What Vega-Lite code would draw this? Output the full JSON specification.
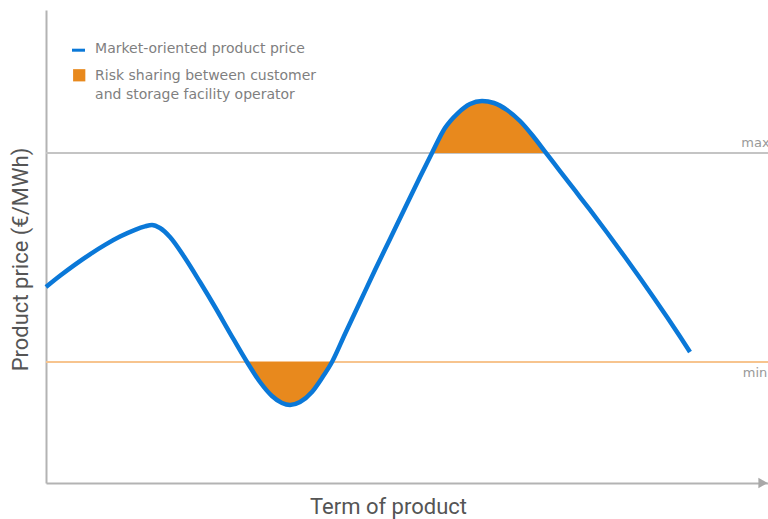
{
  "$schema": "https://vega.github.io/schema/vega-lite/v6.json",
  "width": 722,
  "height": 473,
  "padding": {"left": 46, "top": 10, "right": 0, "bottom": 36},
  "autosize": {"type": "none"},
  "background": "white",
  "config": {"view": {"stroke": null}, "font": "Roboto"},
  "datasets": {
    "curve": [
      {"t": 0, "p": 41.44}, {"t": 1.94, "p": 43.81}, {"t": 4.02, "p": 46.17}, {"t": 6.09, "p": 48.35},
      {"t": 8.17, "p": 50.34}, {"t": 10.25, "p": 52.09}, {"t": 12.33, "p": 53.53}, {"t": 13.71, "p": 54.25},
      {"t": 14.68, "p": 54.55}, {"t": 15.79, "p": 53.91}, {"t": 17.17, "p": 52.01}, {"t": 19.25, "p": 47.57},
      {"t": 21.33, "p": 42.49}, {"t": 23.41, "p": 37.21}, {"t": 25.48, "p": 31.71}, {"t": 27.84, "p": 25.58},
      {"t": 29.64, "p": 21.35}, {"t": 31.3, "p": 18.39}, {"t": 32.69, "p": 16.91}, {"t": 33.8, "p": 16.49},
      {"t": 35.18, "p": 17.12}, {"t": 36.84, "p": 19.24}, {"t": 38.23, "p": 22.2}, {"t": 39.61, "p": 25.58},
      {"t": 41.41, "p": 31.5}, {"t": 43.49, "p": 38.27}, {"t": 45.57, "p": 45.03}, {"t": 47.65, "p": 51.59},
      {"t": 49.72, "p": 58.14}, {"t": 51.8, "p": 64.69}, {"t": 53.46, "p": 69.77}, {"t": 55.26, "p": 75.05},
      {"t": 57.06, "p": 78.22}, {"t": 58.73, "p": 80.13}, {"t": 60.39, "p": 80.76}, {"t": 62.05, "p": 80.34},
      {"t": 63.85, "p": 78.86}, {"t": 65.65, "p": 76.53}, {"t": 67.45, "p": 73.36}, {"t": 69.25, "p": 69.77},
      {"t": 71.19, "p": 65.96}, {"t": 73.27, "p": 61.84}, {"t": 75.35, "p": 57.72}, {"t": 77.7, "p": 52.96},
      {"t": 80.19, "p": 47.78}, {"t": 82.27, "p": 43.34}, {"t": 84.35, "p": 38.79}, {"t": 86.01, "p": 35.1},
      {"t": 87.81, "p": 30.97}, {"t": 89.2, "p": 27.7}
    ],
    "levels": [
      {"level": "max", "t": 0, "t2": 100, "p": 69.77},
      {"level": "min", "t": 0, "t2": 100, "p": 25.58}
    ],
    "levelLabels": [
      {"label": "max", "t": 96.3, "p": 69.77},
      {"label": "min", "t": 96.5, "p": 25.58}
    ],
    "arrow": [{"t": 99.3, "p": 0}],
    "legendLine": [{"t": 3.6, "t2": 5.4, "p": 91.5}],
    "legendSquare": [{"t": 4.6, "p": 86.2}],
    "legendText": [
      {"t": 6.8, "p": 91.75, "text": "Market-oriented product price"},
      {"t": 6.8, "p": 86.0, "text": "Risk sharing between customer"},
      {"t": 6.8, "p": 82.0, "text": "and storage facility operator"}
    ]
  },
  "encoding": {
    "x": {
      "field": "t", "type": "quantitative",
      "scale": {"domain": [0, 100], "nice": false, "zero": false},
      "axis": {
        "title": "Term of product", "ticks": false, "labels": false, "grid": false,
        "domainColor": "#b3b3b3", "domainWidth": 2,
        "titleX": 342, "titleY": 23, "titleAlign": "center", "titleBaseline": "middle",
        "titleFontSize": 22, "titleColor": "#555555", "titleFontWeight": "normal", "titleFont": "Roboto"
      }
    },
    "y": {
      "field": "p", "type": "quantitative",
      "scale": {"domain": [0, 100], "nice": false, "zero": false},
      "axis": {
        "title": "Product price (€/MWh)", "ticks": false, "labels": false, "grid": false,
        "domainColor": "#b3b3b3", "domainWidth": 2,
        "titleX": -26, "titleY": 249, "titleAngle": -90, "titleAlign": "center", "titleBaseline": "middle",
        "titleFontSize": 22, "titleColor": "#555555", "titleFontWeight": "normal", "titleFont": "Roboto"
      }
    }
  },
  "layer": [
    {
      "data": {"name": "levels"},
      "mark": {"type": "rule", "strokeWidth": 2},
      "encoding": {
        "x2": {"field": "t2"},
        "color": {"field": "level", "type": "nominal", "scale": {"domain": ["max", "min"], "range": ["#c4c4c4", "#f7c48e"]}, "legend": null}
      }
    },
    {
      "data": {"name": "curve"},
      "transform": [{"filter": "datum.t >= 27.8 && datum.t <= 39.7"}],
      "mark": {"type": "area", "interpolate": "monotone", "color": "#e8891d", "opacity": 1},
      "encoding": {"y2": {"datum": 25.58}}
    },
    {
      "data": {"name": "curve"},
      "transform": [{"filter": "datum.t >= 53.4 && datum.t <= 69.3"}],
      "mark": {"type": "area", "interpolate": "monotone", "color": "#e8891d", "opacity": 1},
      "encoding": {"y2": {"datum": 69.77}}
    },
    {
      "data": {"name": "curve"},
      "mark": {"type": "line", "interpolate": "monotone", "color": "#0a78d8", "strokeWidth": 4.5, "strokeCap": "butt"},
      "encoding": {}
    },
    {
      "data": {"name": "arrow"},
      "mark": {"type": "point", "shape": "triangle-right", "filled": true, "color": "#a8a8a8", "size": 110, "opacity": 1, "clip": false},
      "encoding": {}
    },
    {
      "data": {"name": "levelLabels"},
      "transform": [{"filter": "datum.label == 'max'"}],
      "mark": {"type": "text", "align": "left", "baseline": "alphabetic", "dy": -6, "fontSize": 13, "color": "#999999", "font": "DejaVu Sans"},
      "encoding": {"text": {"field": "label"}}
    },
    {
      "data": {"name": "levelLabels"},
      "transform": [{"filter": "datum.label == 'min'"}],
      "mark": {"type": "text", "align": "left", "baseline": "alphabetic", "dy": 15, "fontSize": 13, "color": "#999999", "font": "DejaVu Sans"},
      "encoding": {"text": {"field": "label"}}
    },
    {
      "data": {"name": "legendLine"},
      "mark": {"type": "rule", "color": "#0a78d8", "strokeWidth": 3},
      "encoding": {"x2": {"field": "t2"}}
    },
    {
      "data": {"name": "legendSquare"},
      "mark": {"type": "point", "shape": "square", "filled": true, "color": "#e8891d", "size": 150, "opacity": 1},
      "encoding": {}
    },
    {
      "data": {"name": "legendText"},
      "mark": {"type": "text", "align": "left", "baseline": "middle", "fontSize": 14, "color": "#7f7f7f", "font": "DejaVu Sans"},
      "encoding": {"text": {"field": "text"}}
    }
  ]
}
